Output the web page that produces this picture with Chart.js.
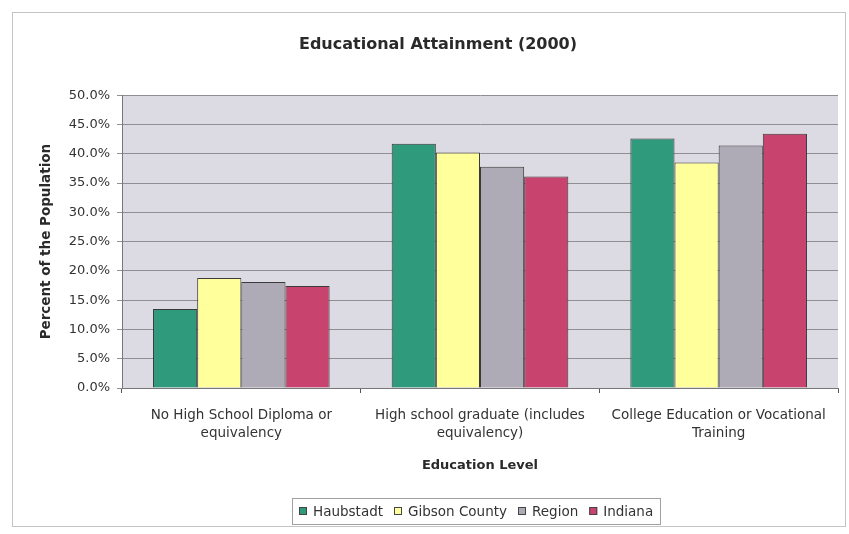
<!DOCTYPE html>
<html>
<head>
<meta charset="utf-8">
<script src="https://cdn.jsdelivr.net/npm/chart.js@4/dist/chart.umd.min.js"></script>
<style>
  html, body { margin: 0; padding: 0; background: #ffffff; }
  #wrap { position: relative; width: 849px; height: 534px; }
</style>
</head>
<body>
<div id="wrap"><canvas id="c" width="849" height="534"></canvas></div>
<script>
const categories = [
  ['No High School Diploma or', 'equivalency'],
  ['High school graduate (includes', 'equivalency)'],
  ['College Education or Vocational', 'Training']
];
const seriesNames = ['Haubstadt', 'Gibson County', 'Region', 'Indiana'];
const haubstadt = [13.5, 41.7, 42.6];
const gibsonCounty = [18.8, 40.2, 38.5];
const region = [18.1, 37.8, 41.4];
const indiana = [17.4, 36.1, 43.4];
const yTicks = [0, 5, 10, 15, 20, 25, 30, 35, 40, 45, 50];

const colors = ['#2f9a7c', '#ffff9c', '#aeaab6', '#c8436e'];
const FONT = '"DejaVu Sans", "Liberation Sans", Arial, sans-serif';

const bgPlugin = {
  id: 'bgPlugin',
  beforeDraw(chart) {
    const ctx = chart.ctx;
    ctx.save();
    ctx.fillStyle = '#ffffff';
    ctx.fillRect(0, 0, chart.width, chart.height);
    ctx.strokeStyle = '#c4c4c4';
    ctx.lineWidth = 1;
    ctx.strokeRect(12.5, 12.5, 833, 514);
    const a = chart.chartArea;
    ctx.fillStyle = '#dcdae2';
    ctx.fillRect(a.left, a.top, a.right - a.left, a.bottom - a.top);
    ctx.restore();
  },
  afterDraw(chart) {
    // legend drawn from the chart's datasets, centred under the plot area
    const ctx = chart.ctx;
    const a = chart.chartArea;
    const ds = chart.data.datasets;
    ctx.save();
    ctx.font = '13.5px ' + FONT;
    ctx.textBaseline = 'middle';
    const box = 8, gapBoxText = 6, gapItems = 11;
    const widths = ds.map(d => box + gapBoxText + ctx.measureText(d.label).width);
    const total = widths.reduce((s, w) => s + w, 0) + gapItems * (ds.length - 1);
    const cx = (a.left + a.right) / 2 - 4;
    let x = Math.round(cx - total / 2);
    const cy = 511;
    ctx.strokeStyle = '#a0a0a0';
    ctx.lineWidth = 1;
    ctx.strokeRect(x - 7 + 0.5, cy - 13 + 0.5, Math.round(total + 14), 26);
    ds.forEach((d, i) => {
      ctx.fillStyle = d.backgroundColor;
      ctx.fillRect(x, cy - box / 2, box, box);
      ctx.strokeStyle = '#444444';
      ctx.strokeRect(x + 0.5, cy - box / 2 + 0.5, box - 1, box - 1);
      ctx.fillStyle = '#333333';
      ctx.fillText(d.label, x + box + gapBoxText, cy + 1);
      x += widths[i] + gapItems;
    });
    ctx.restore();
  }
};

new Chart(document.getElementById('c'), {
  type: 'bar',
  data: {
    labels: categories,
    datasets: [
      { label: seriesNames[0], data: haubstadt, backgroundColor: colors[0] },
      { label: seriesNames[1], data: gibsonCounty, backgroundColor: colors[1] },
      { label: seriesNames[2], data: region, backgroundColor: colors[2] },
      { label: seriesNames[3], data: indiana, backgroundColor: colors[3] }
    ].map(d => Object.assign(d, { borderColor: '#3a3a3a', borderWidth: 1, categoryPercentage: 0.74, barPercentage: 1.0 }))
  },
  options: {
    responsive: false,
    animation: false,
    devicePixelRatio: 1,
    layout: { padding: { left: 38, right: 11, top: 27, bottom: 44 } },
    plugins: {
      title: {
        display: true,
        text: 'Educational Attainment (2000)',
        color: '#2a2a2a',
        font: { family: FONT, size: 16, weight: 'bold' },
        padding: { top: 8, bottom: 41 }
      },
      legend: { display: false },
      tooltip: { enabled: false }
    },
    scales: {
      x: {
        grid: { display: true, drawOnChartArea: false, offset: true, tickLength: 5, color: '#555555' },
        border: { color: '#777777' },
        ticks: { color: '#333333', font: { family: FONT, size: 13.5, lineHeight: 1.35 }, maxRotation: 0, autoSkip: false, padding: 13 },
        title: {
          display: true, text: 'Education Level', color: '#2a2a2a',
          font: { family: FONT, size: 13, weight: 'bold' }, padding: { top: 0, bottom: 17 }
        },
        afterFit(s) { s.height = 102; }
      },
      y: {
        min: 0, max: 50,
        afterBuildTicks(s) { s.ticks = yTicks.map(v => ({ value: v })); },
        grid: { color: '#8e8e94', lineWidth: 1, tickLength: 5 },
        border: { color: '#777777' },
        ticks: {
          color: '#333333', font: { family: FONT, size: 13 }, padding: 7,
          callback: v => Number(v).toFixed(1) + '%'
        },
        title: {
          display: true, text: 'Percent of the Population', color: '#2a2a2a',
          font: { family: FONT, size: 13.5, weight: 'bold' }, padding: { top: 0, bottom: 10 }
        },
        afterFit(s) { s.width = 84; }
      }
    }
  },
  plugins: [bgPlugin]
});
</script>
</body>
</html>
